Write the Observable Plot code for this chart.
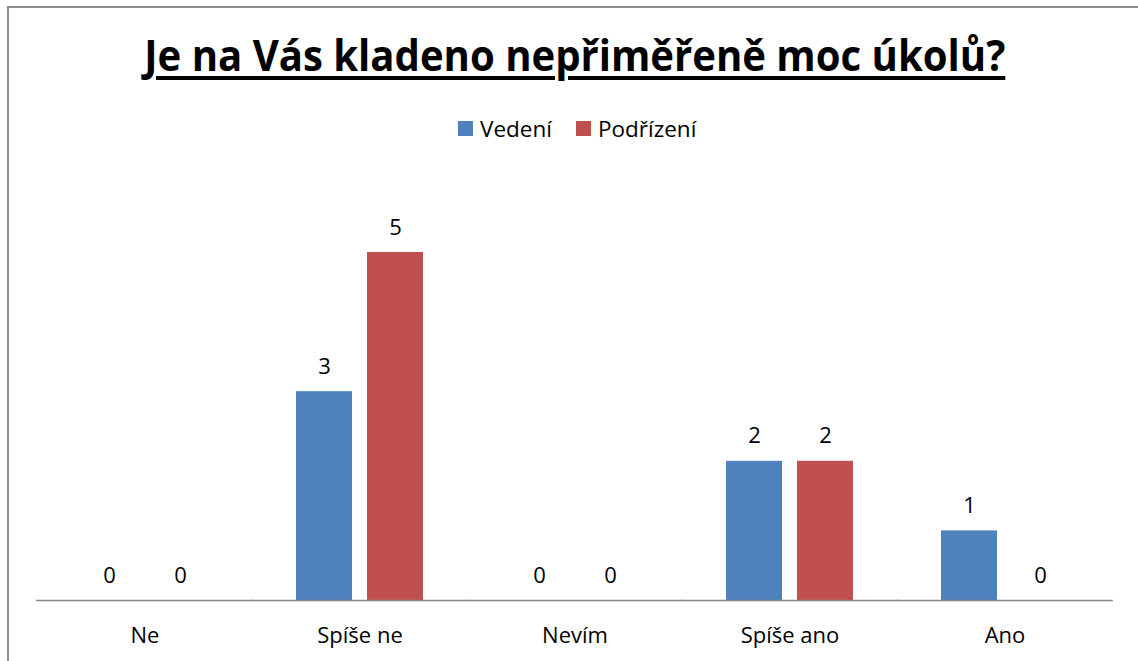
<!DOCTYPE html>
<html>
<head>
<meta charset="utf-8">
<script src="https://cdn.jsdelivr.net/npm/d3@7"></script>
<script src="https://cdn.jsdelivr.net/npm/@observablehq/plot@0.6"></script>
<style>
  html, body { margin: 0; padding: 0; background: white; }
  #wrap { position: relative; width: 1138px; height: 661px; overflow: hidden; background: white; font-family: "Open Sans", sans-serif; }
  #border { position: absolute; left: 7px; top: 6px; width: 3000px; height: 3000px; border-left: 2px solid #8c8c8c; border-top: 2px solid #8c8c8c; pointer-events: none; }
  #title { position: absolute; left: 0; top: 33px; width: 1149px; text-align: center; line-height: 1; }
  #title span { display: inline-block; font-family: "Open Sans", sans-serif; font-weight: bold; font-size: 43px; color: #000;
    text-decoration: underline; text-decoration-thickness: 4px; text-underline-offset: 5px; transform-origin: center; white-space: nowrap; }
  #legend { position: absolute; left: 458px; top: 112px; }
  .leg-swatch > svg { margin-right: 7px !important; }
  .leg-swatch { margin-right: 24px !important; }
  #chart { position: absolute; left: 0; top: 160px; }
</style>
</head>
<body>
<div id="wrap">
  <div id="title"><span id="tspan">Je na Vás kladeno nepřiměřeně moc úkolů?</span></div>
  <div id="legend"></div>
  <div id="chart"></div>
  <div id="border"></div>
</div>
<script>
const categories = ["Ne", "Spíše ne", "Nevím", "Spíše ano", "Ano"];
const series = ["Vedení", "Podřízení"];
const vedeni = [0, 3, 0, 2, 1];
const podrizeni = [0, 5, 0, 2, 0];
const colors = ["#4F81BD", "#C0504D"];

const data = categories.flatMap((c, i) => [
  {cat: c, series: series[0], value: vedeni[i]},
  {cat: c, series: series[1], value: podrizeni[i]}
]);

// title width fit (Calibri-like narrow width)
const ts = document.getElementById("tspan");
const w = ts.getBoundingClientRect().width;
ts.style.transform = `scaleX(${861 / w})`;

const leg = Plot.legend({
  color: {domain: series, range: colors},
  legend: "swatches",
  swatchSize: 15,
  className: "leg",
  style: {fontSize: "22.5px", fontFamily: "Open Sans, sans-serif", color: "#000"}
});
document.getElementById("legend").appendChild(leg);

const chart = Plot.plot({
  width: 1138,
  height: 501,
  marginLeft: 36,
  marginRight: 25,
  marginTop: 92,
  marginBottom: 61,
  style: {fontSize: "22px", fontFamily: "Open Sans, sans-serif", color: "#000", background: "transparent", overflow: "visible"},
  facet: {data, x: "cat"},
  fx: {domain: categories, paddingInner: 0.4, paddingOuter: 0.2, label: null, tickSize: 0, tickPadding: 27, axis: "bottom"},
  x: {domain: series, paddingInner: 0.208, paddingOuter: 0, axis: null},
  y: {domain: [0, 5], axis: null},
  color: {domain: series, range: colors},
  marks: [
    Plot.barY(data, {x: "series", y: "value", fill: "series"}),
    Plot.ruleY([0], {stroke: "#868686", strokeWidth: 1.5, insetLeft: -43.8, insetRight: -43.8}),
    Plot.text(data, {x: "series", y: "value", text: d => String(d.value), lineAnchor: "bottom", dy: -18, fill: "#000"})
  ]
});
document.getElementById("chart").appendChild(chart);
</script>
</body>
</html>
